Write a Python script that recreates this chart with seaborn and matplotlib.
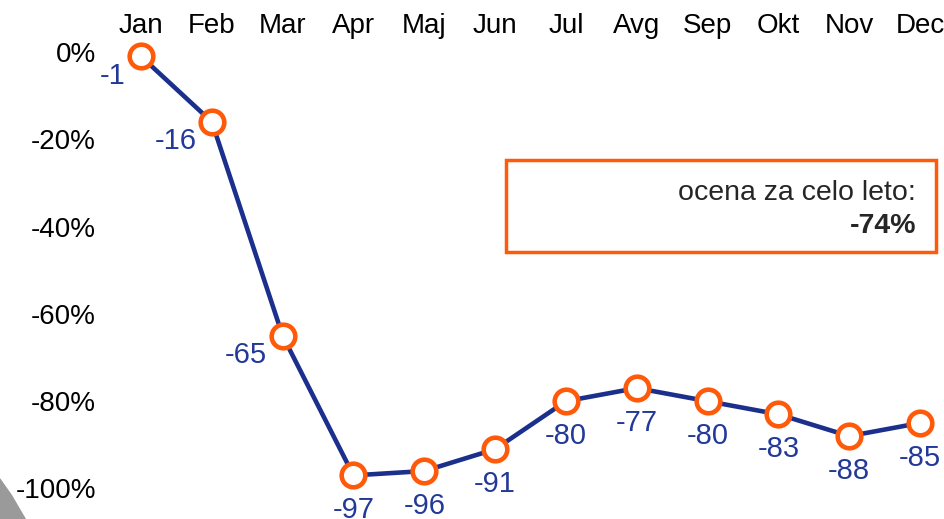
import matplotlib
matplotlib.use("Agg")
import matplotlib.pyplot as plt
from matplotlib.patches import Polygon, Rectangle
import seaborn as sns

months = ['Jan', 'Feb', 'Mar', 'Apr', 'Maj', 'Jun', 'Jul', 'Avg', 'Sep', 'Okt', 'Nov', 'Dec']
change = [-1, -16, -65, -97, -96, -91, -80, -77, -80, -83, -88, -85]
y_ticks = [0, -20, -40, -60, -80, -100]
y_labels = ['0%', '-20%', '-40%', '-60%', '-80%', '-100%']
summary_label = 'ocena za celo leto:'
summary_value = '-74%'

blue = '#1b2f8c'
label_blue = '#23399a'
orange = '#ff5a0a'

sns.set_style('white')
plt.rcParams['font.family'] = ['Liberation Sans', 'DejaVu Sans']

fig = plt.figure(figsize=(9.44, 5.19), dpi=100)
# axes placed in pixels: left 110, right 944, top 40, bottom 519
ax = fig.add_axes([110 / 944, 0, (944 - 110) / 944, (519 - 40) / 519])

idx = list(range(len(months)))
sns.lineplot(x=idx, y=change, ax=ax, color=blue, linewidth=3.3,
             marker='o', markersize=17, markerfacecolor='white',
             markeredgecolor=orange, markeredgewidth=3.3, zorder=3)

ax.set_xlim(-0.4377, 11.339)
ax.set_ylim(-106.99, 2.75)

ax.xaxis.tick_top()
ax.set_xticks(idx)
ax.set_xticklabels(months, fontsize=20)
ax.set_yticks(y_ticks)
ax.set_yticklabels(y_labels, fontsize=20)
ax.tick_params(axis='x', length=0, pad=1, colors='black')
ax.tick_params(axis='y', length=0, pad=10, colors='black')
ax.set_xlabel('')
ax.set_ylabel('')
for s in ax.spines.values():
    s.set_visible(False)

# value labels: first three to the lower left, the rest centred below
for i, v in enumerate(change):
    if i < 3:
        off, ha = (-11, -14), 'right'
    else:
        off, ha = (0, -25), 'center'
    ax.annotate(f'{v}', (i, v), xytext=off, textcoords='offset points',
                ha=ha, va='center', fontsize=21, color=label_blue)

# summary box
fig.patches.append(Rectangle((506 / 944, 1 - 252 / 519), (936 - 506) / 944, (252 - 160) / 519,
                             transform=fig.transFigure, fill=False,
                             edgecolor=orange, linewidth=2.5))
fig.text(916 / 944, 1 - 193 / 519, summary_label, ha='right', va='center', fontsize=20.5)
fig.text(916 / 944, 1 - 226 / 519, summary_value, ha='right', va='center',
         fontsize=20.5, fontweight='bold')

# grey corner shape bottom left
fig.patches.append(Polygon([(0, 1 - 478 / 519), (12 / 944, 1 - 495 / 519),
                            (26 / 944, 0), (0, 0)], closed=True,
                           transform=fig.transFigure, facecolor='#9a9a9a',
                           edgecolor='none'))

fig.savefig('out.png', dpi=100)
